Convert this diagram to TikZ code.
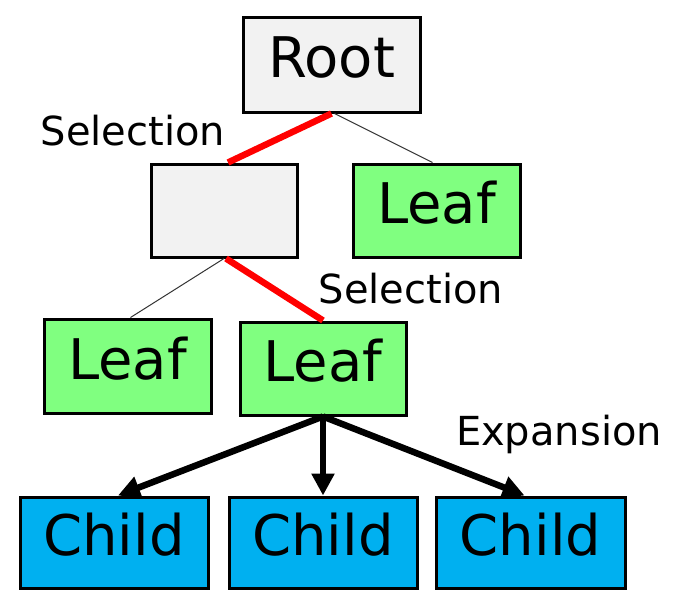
\documentclass[tikz,border=0pt]{standalone}
\usepackage{fontspec}
\setmainfont{DejaVu Sans}
\usetikzlibrary{arrows.meta}
\definecolor{boxgray}{HTML}{F2F2F2}
\definecolor{leafgreen}{HTML}{80FF80}
\definecolor{childblue}{HTML}{00B0F0}
\tikzset{
  treebox/.style={draw=black, line width=3pt, rectangle, inner sep=0pt,
    font=\fontsize{56}{60}\selectfont, text height=41pt, text depth=15pt},
  graybox/.style={treebox, fill=boxgray},
  leafbox/.style={treebox, fill=leafgreen},
  childbox/.style={treebox, fill=childblue},
  steplabel/.style={inner sep=0pt, font=\fontsize{40}{44}\selectfont,
    text height=29pt, text depth=0pt},
  chosen/.style={draw=red, line width=6.5pt},
  plain/.style={draw=black!80, line width=1pt},
  expand/.style={draw=black, line width=6.5pt, -{Triangle[length=22pt,width=22pt]}}
}
\begin{document}
\begin{tikzpicture}[x=1pt, y=-1pt]
  \useasboundingbox (0,0) rectangle (688,592);

  % tree nodes
  \node[graybox, minimum width=177pt, minimum height=95pt] (root) at (331.5,64.5) {Root};
  \node[graybox, minimum width=146pt, minimum height=93pt] (mid) at (224,210.5) {};
  \node[leafbox, minimum width=167pt, minimum height=93pt] (leafR) at (436.5,210.5) {Leaf};
  \node[leafbox, minimum width=167pt, minimum height=94pt] (leafL) at (127.5,366) {Leaf};
  \node[leafbox, minimum width=166pt, minimum height=93pt] (leafM) at (323,368.5) {Leaf};
  \node[childbox, minimum width=188pt, minimum height=91pt] (c1) at (114,542.5) {Child};
  \node[childbox, minimum width=188pt, minimum height=91pt] (c2) at (323,542.5) {Child};
  \node[childbox, minimum width=189pt, minimum height=91pt] (c3) at (530.5,542.5) {Child};

  % step labels
  \node[steplabel] (sel1) at (133,131) {Selection};
  \node[steplabel] (sel2) at (411,289) {Selection};
  \node[steplabel] (exp) at (559,431) {Expansion};

  % edges
  \draw[plain] ([xshift=3pt]root.south) -- ([xshift=-4pt]leafR.north);
  \draw[plain] (mid.south) -- ([xshift=3pt]leafL.north);
  \draw[chosen] (root.south) -- ([xshift=4pt]mid.north);
  \draw[chosen] ([xshift=2pt]mid.south) -- (leafM.north);

  % expansion arrows
  \draw[expand] (leafM.south) -- ([xshift=4pt]c1.north);
  \draw[expand] (leafM.south) -- (c2.north);
  \draw[expand] (leafM.south) -- ([xshift=-6pt]c3.north);
\end{tikzpicture}
\end{document}
